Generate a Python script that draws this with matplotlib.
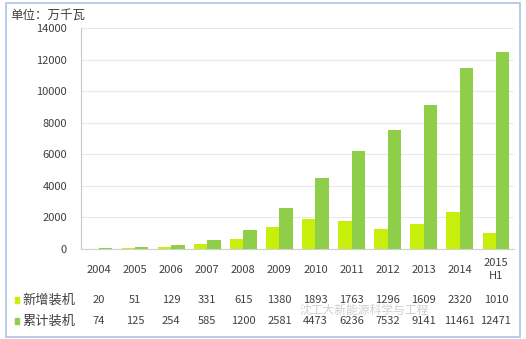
import matplotlib.pyplot as plt
from matplotlib.patches import Rectangle
from matplotlib.transforms import blended_transform_factory

plt.rcParams['font.family'] = ['Noto Sans CJK SC', 'DejaVu Sans']

years = ['2004', '2005', '2006', '2007', '2008', '2009', '2010',
         '2011', '2012', '2013', '2014', '2015\nH1']
new_cap = [20, 51, 129, 331, 615, 1380, 1893, 1763, 1296, 1609, 2320, 1010]
cum_cap = [74, 125, 254, 585, 1200, 2581, 4473, 6236, 7532, 9141, 11461, 12471]
row_names = ['新增装机', '累计装机']

c_new = '#c8ef0c'
c_cum = '#8fce48'
txt = '#404040'

fig = plt.figure(figsize=(5.26, 3.39), dpi=100)
ax = fig.add_axes([0.154, 0.2655, 0.823, 0.652])

x = list(range(len(years)))
w = 0.37
ax.bar([i - w / 2 for i in x], new_cap, width=w, color=c_new, zorder=3)
ax.bar([i + w / 2 for i in x], cum_cap, width=w, color=c_cum, zorder=3)

ax.set_xlim(-0.5, len(years) - 0.5)
ax.set_ylim(0, 14000)
ax.set_yticks(range(0, 14001, 2000))
ax.tick_params(axis='y', length=0, pad=10, labelsize=8, labelcolor=txt)
ax.set_xticks([])
ax.grid(axis='y', color='#e8e8e8', linewidth=0.8, zorder=0)
for s in ['top', 'right']:
    ax.spines[s].set_visible(False)
ax.spines['left'].set_color('#c8c8c8')
ax.spines['bottom'].set_color('#d0d0d0')

# data table under the plot
tr = blended_transform_factory(ax.transData, fig.transFigure)
for i, y in enumerate(years):
    ax.text(i, 0.205, y, transform=tr, ha='center', va='center',
            fontsize=8, color=txt, linespacing=1.3)
    ax.text(i, 0.115, str(new_cap[i]), transform=tr, ha='center',
            va='center', fontsize=8, color=txt)
    ax.text(i, 0.053, str(cum_cap[i]), transform=tr, ha='center',
            va='center', fontsize=8, color=txt)

for yy, name, col in [(0.115, row_names[0], c_new), (0.053, row_names[1], c_cum)]:
    fig.add_artist(Rectangle((0.028, yy - 0.009), 0.009, 0.018,
                             color=col, transform=fig.transFigure))
    fig.text(0.043, yy, name, ha='left', va='center', fontsize=9.5, color=txt)

fig.text(0.019, 0.955, '单位：万千瓦', ha='left', va='center',
         fontsize=9, color=txt)

# watermark, squeezed between the two table rows
fig.text(0.57, 0.085, '沈工大新能源科学与工程', ha='left', va='center',
         fontsize=8.5, color='#b0b0b0', alpha=0.6)

# outer frame
fig.add_artist(Rectangle((0.012, 0.006), 0.976, 0.985, fill=False,
                         edgecolor='#a9c4e6', linewidth=1.2,
                         transform=fig.transFigure))

fig.savefig('out.png', dpi=100)
